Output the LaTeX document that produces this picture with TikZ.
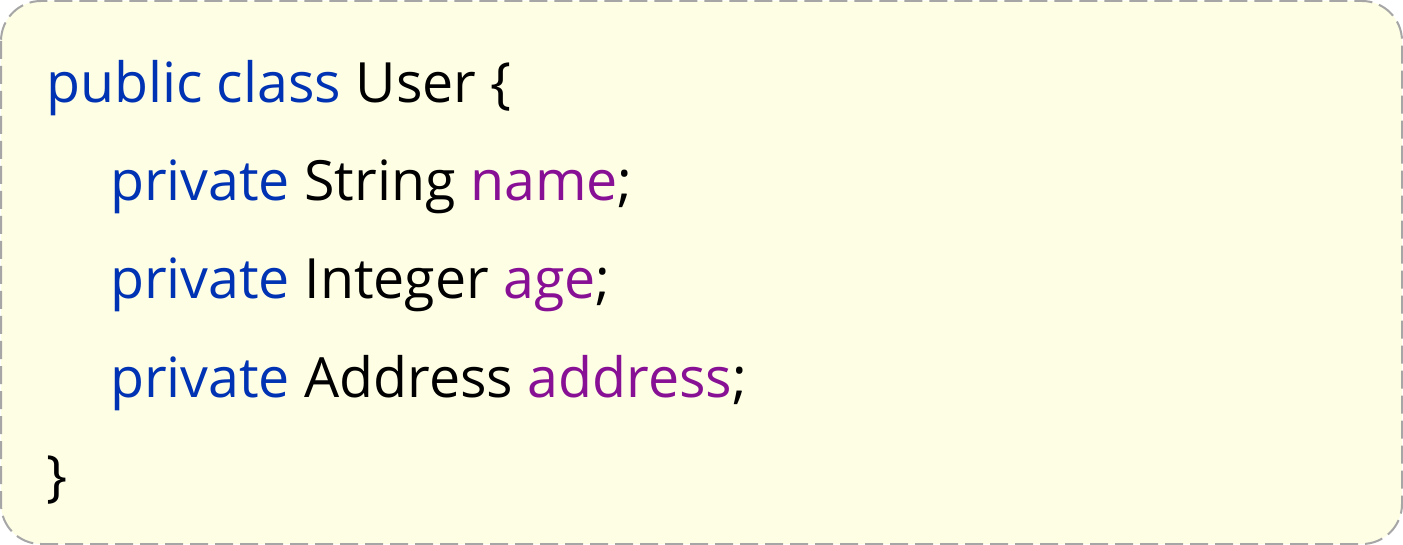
\documentclass[tikz,border=0pt]{standalone}
\usepackage{fontspec}
\setmainfont{Open Sans}
\definecolor{kw}{HTML}{0033B3}
\definecolor{fld}{HTML}{871094}
\definecolor{boxfill}{HTML}{FEFEE5}
\definecolor{boxline}{HTML}{A6A6A6}
\begin{document}
\begin{tikzpicture}[x=1pt,y=-1pt,
  codeline/.style={anchor=base west,inner sep=0pt,outer sep=0pt,font=\fontsize{55.5}{66}\selectfont},
  codebox/.style={draw=boxline,fill=boxfill,line width=2pt,dash pattern=on 18pt off 7pt,rounded corners=40pt}]
\useasboundingbox (0,0) rectangle (1403,545);
\draw[codebox] (1,1) rectangle (1402,544);
\node[codeline] (l1) at (46,103) {\textcolor{kw}{public class} User \{};
\node[codeline] (l2) at (110,201) {\textcolor{kw}{private} String \textcolor{fld}{name};};
\node[codeline] (l3) at (110,299) {\textcolor{kw}{private} Integer \textcolor{fld}{age};};
\node[codeline] (l4) at (110,397) {\textcolor{kw}{private} Address \textcolor{fld}{address};};
\node[codeline] (l5) at (46,495) {\}};
\end{tikzpicture}
\end{document}
